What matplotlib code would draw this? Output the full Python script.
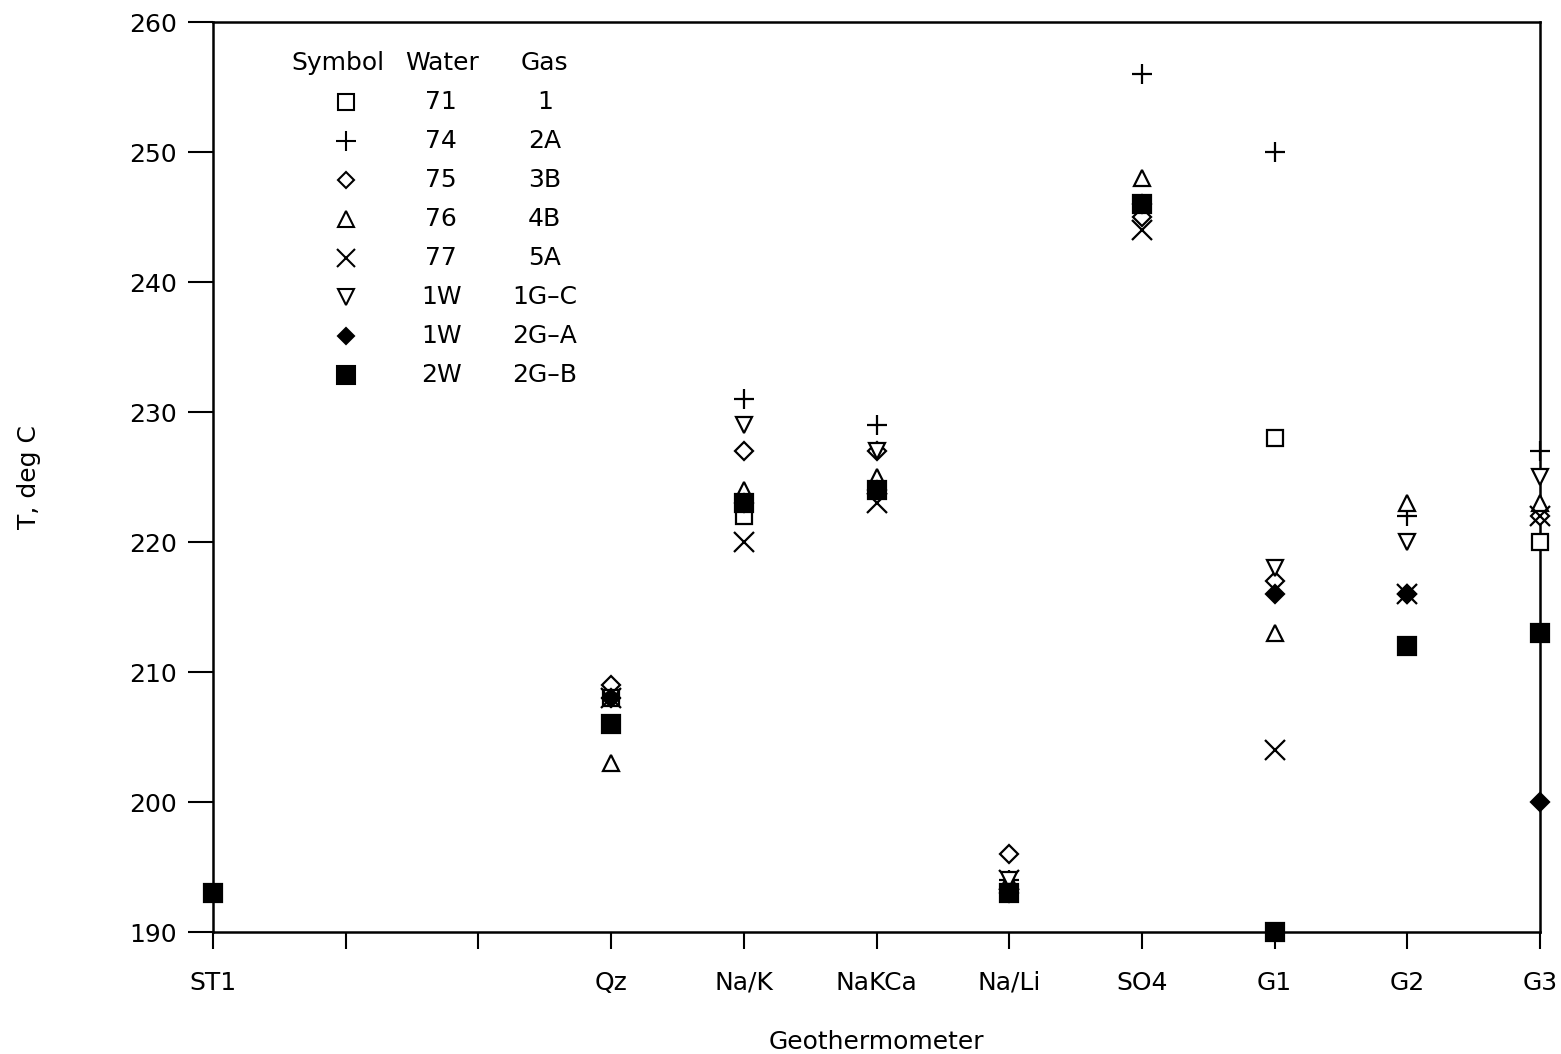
import numpy as np
import matplotlib.pyplot as plt

nan = np.nan

# geothermometer names (positions 1 and 2 are empty ticks)
tick_labels = ['ST1', '', '', 'Qz', 'Na/K', 'NaKCa', 'Na/Li', 'SO4', 'G1', 'G2', 'G3']
x_pos = [0, 3, 4, 5, 6, 7, 8, 9, 10]

# temperatures, deg C, in order ST1, Qz, Na/K, NaKCa, Na/Li, SO4, G1, G2, G3
t_71_1 = [nan, 208, 222, 224, 193, 246, 228, 212, 220]
t_74_2A = [nan, 208, 231, 229, 194, 256, 250, 222, 227]
t_75_3B = [nan, 209, 227, 227, 196, 245, 217, 216, 222]
t_76_4B = [nan, 203, 224, 225, 194, 248, 213, 223, 223]
t_77_5A = [nan, 208, 220, 223, 194, 244, 204, 216, 222]
t_1W_1GC = [nan, 208, 229, 227, 194, 246, 218, 220, 225]
t_1W_2GA = [nan, 208, 223, 224, 193, 246, 216, 216, 200]
t_2W_2GB = [193, 206, 223, 224, 193, 246, 190, 212, 213]

water = ['71', '74', '75', '76', '77', '1W', '1W', '2W']
gas = ['1', '2A', '3B', '4B', '5A', '1G\u2013C', '2G\u2013A', '2G\u2013B']

series = [t_71_1, t_74_2A, t_75_3B, t_76_4B, t_77_5A, t_1W_1GC, t_1W_2GA, t_2W_2GB]
markers = ['s', '+', 'D', '^', 'x', 'v', 'D', 's']
sizes = [12, 15, 9, 12, 14, 12, 9, 13]
filled = [False, False, False, False, False, False, True, True]

fig = plt.figure(figsize=(15.61, 10.54), dpi=100)
ax = fig.add_axes([0.1365, 0.1157, 0.85, 0.8634])

for s, m, ms, f in zip(series, markers, sizes, filled):
    fc = 'black' if f else 'white'
    ax.plot(x_pos, s, linestyle='none', marker=m, markersize=ms,
            markerfacecolor=fc, markeredgecolor='black', markeredgewidth=1.6,
            clip_on=False, zorder=3)

ax.set_xlim(0, 10)
ax.set_ylim(190, 260)
ax.set_xticks(range(11))
ax.set_xticklabels(tick_labels, fontsize=18)
ax.set_yticks(range(190, 261, 10))
ax.tick_params(axis='y', labelsize=18, direction='out', length=18, width=1.5, pad=8)
ax.tick_params(axis='x', direction='out', length=12, width=1.5, pad=16)
for sp in ax.spines.values():
    sp.set_linewidth(1.8)

ax.set_xlabel('Geothermometer', fontsize=18, va='center')
ax.xaxis.set_label_coords(0.5, -0.121)
ax.set_ylabel('T, deg C', fontsize=18, va='center')
ax.yaxis.set_label_coords(-0.139, 0.5)

# symbol table in upper left
col_sym, col_w, col_g = 0.1, 0.172, 0.25
row0 = 0.955
dy = 0.0428
ax.text(0.059, row0, 'Symbol', transform=ax.transAxes, fontsize=18, va='center')
ax.text(0.145, row0, 'Water', transform=ax.transAxes, fontsize=18, va='center')
ax.text(0.232, row0, 'Gas', transform=ax.transAxes, fontsize=18, va='center')
for i, (m, ms, f) in enumerate(zip(markers, sizes, filled)):
    yy = row0 - (i + 1) * dy
    fc = 'black' if f else 'white'
    ax.plot([col_sym], [yy], transform=ax.transAxes, marker=m, markersize=ms * 0.95,
            markerfacecolor=fc, markeredgecolor='black', markeredgewidth=1.5,
            linestyle='none', clip_on=False)
    ax.text(col_w, yy, water[i], transform=ax.transAxes, fontsize=18,
            va='center', ha='center')
    ax.text(col_g, yy, gas[i], transform=ax.transAxes, fontsize=18,
            va='center', ha='center')

fig.savefig('out.png', dpi=100)
